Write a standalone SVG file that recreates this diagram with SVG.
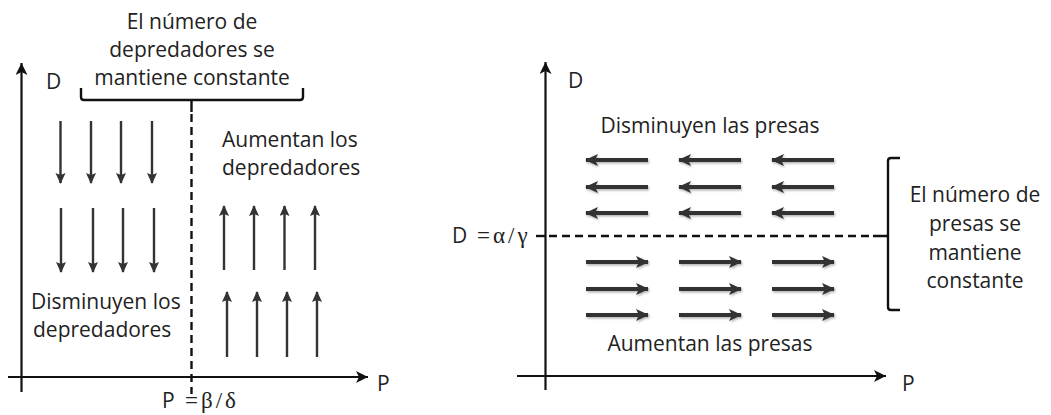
<svg xmlns="http://www.w3.org/2000/svg" width="1051" height="415" viewBox="0 0 1051 415">
<style>
text{font-family:"Open Sans","DejaVu Sans",sans-serif;font-size:21px;fill:#222}
.sym{font-family:"Liberation Serif",serif;font-size:23px;letter-spacing:3px}
.ax{stroke:#111;stroke-width:2.2;fill:none}
.va{stroke:#333;stroke-width:2.4;fill:none}
.ha{stroke:#333;stroke-width:4;fill:none}
.dash{stroke:#111;stroke-width:2.4;stroke-dasharray:8 5;fill:none}
.br{stroke:#111;stroke-width:2.4;fill:none;stroke-linejoin:round}
</style>
<defs>
<marker id="axh" markerUnits="userSpaceOnUse" markerWidth="14" markerHeight="12" refX="12" refY="6" orient="auto"><path d="M0,0 L12,6 L0,12 L3,6 Z" fill="#111"/></marker>
<marker id="vh" markerUnits="userSpaceOnUse" markerWidth="12" markerHeight="12" refX="10" refY="5" orient="auto"><path d="M0,0 L11,5 L0,10 L2,5 Z" fill="#333"/></marker>
<marker id="hh" markerUnits="userSpaceOnUse" markerWidth="14" markerHeight="14" refX="12" refY="6" orient="auto"><path d="M0,0 L13,6 L0,12 L3,6 Z" fill="#333"/></marker>
<filter id="sh" x="-10%" y="-50%" width="120%" height="200%"><feDropShadow dx="1" dy="1.5" stdDeviation="1.2" flood-color="#000" flood-opacity="0.3"/></filter>
</defs>

<g id="left-chart">
<g id="left-axes">
<line class="ax" x1="21.5" y1="392" x2="21.5" y2="63" marker-end="url(#axh)"/>
<line class="ax" x1="8" y1="377" x2="368" y2="377" marker-end="url(#axh)"/>
<text x="46" y="89">D</text>
<text x="377" y="391">P</text>
</g>
<g id="left-brace">
<path class="br" d="M81,88 V97 Q81,100 84,100 H300 Q303,100 303,97 V88 M191.5,100 V112"/>
<line class="dash" x1="191.5" y1="114" x2="191.5" y2="394"/>
<text x="192" y="29" text-anchor="middle">El número de</text>
<text x="192" y="57" text-anchor="middle">depredadores se</text>
<text x="192" y="85" text-anchor="middle">mantiene constante</text>
</g>
<g id="left-labels">
<text x="222" y="147">Aumentan los</text>
<text x="222" y="175">depredadores</text>
<text x="31" y="309">Disminuyen los</text>
<text x="33" y="337">depredadores</text>
<text x="162" y="408">P</text>
<text class="sym" x="185" y="408">=β/δ</text>
</g>
</g>

<g id="connectors">
<g id="down-arrows">
<line class="va" x1="60.5" y1="121" x2="60.5" y2="183" marker-end="url(#vh)"/>
<line class="va" x1="91" y1="121" x2="91" y2="183" marker-end="url(#vh)"/>
<line class="va" x1="121" y1="121" x2="121" y2="183" marker-end="url(#vh)"/>
<line class="va" x1="152" y1="121" x2="152" y2="183" marker-end="url(#vh)"/>
<line class="va" x1="61" y1="208" x2="61" y2="272" marker-end="url(#vh)"/>
<line class="va" x1="93" y1="208" x2="93" y2="272" marker-end="url(#vh)"/>
<line class="va" x1="123" y1="208" x2="123" y2="272" marker-end="url(#vh)"/>
<line class="va" x1="154" y1="208" x2="154" y2="272" marker-end="url(#vh)"/>
</g>
<g id="up-arrows">
<line class="va" x1="224" y1="270" x2="224" y2="206" marker-end="url(#vh)"/>
<line class="va" x1="254" y1="270" x2="254" y2="206" marker-end="url(#vh)"/>
<line class="va" x1="284.5" y1="270" x2="284.5" y2="206" marker-end="url(#vh)"/>
<line class="va" x1="315" y1="270" x2="315" y2="206" marker-end="url(#vh)"/>
<line class="va" x1="227" y1="357" x2="227" y2="292" marker-end="url(#vh)"/>
<line class="va" x1="257" y1="357" x2="257" y2="292" marker-end="url(#vh)"/>
<line class="va" x1="287" y1="357" x2="287" y2="292" marker-end="url(#vh)"/>
<line class="va" x1="317" y1="357" x2="317" y2="292" marker-end="url(#vh)"/>
</g>
<g id="left-arrows" filter="url(#sh)">
<line class="ha" x1="648" y1="160" x2="586" y2="160" marker-end="url(#hh)"/>
<line class="ha" x1="741" y1="160" x2="679" y2="160" marker-end="url(#hh)"/>
<line class="ha" x1="834" y1="160" x2="772" y2="160" marker-end="url(#hh)"/>
<line class="ha" x1="648" y1="187" x2="586" y2="187" marker-end="url(#hh)"/>
<line class="ha" x1="741" y1="187" x2="679" y2="187" marker-end="url(#hh)"/>
<line class="ha" x1="834" y1="187" x2="772" y2="187" marker-end="url(#hh)"/>
<line class="ha" x1="648" y1="213" x2="586" y2="213" marker-end="url(#hh)"/>
<line class="ha" x1="741" y1="213" x2="679" y2="213" marker-end="url(#hh)"/>
<line class="ha" x1="834" y1="213" x2="772" y2="213" marker-end="url(#hh)"/>
</g>
<g id="right-arrows" filter="url(#sh)">
<line class="ha" x1="586" y1="262" x2="648" y2="262" marker-end="url(#hh)"/>
<line class="ha" x1="679" y1="262" x2="741" y2="262" marker-end="url(#hh)"/>
<line class="ha" x1="772" y1="262" x2="834" y2="262" marker-end="url(#hh)"/>
<line class="ha" x1="586" y1="289" x2="648" y2="289" marker-end="url(#hh)"/>
<line class="ha" x1="679" y1="289" x2="741" y2="289" marker-end="url(#hh)"/>
<line class="ha" x1="772" y1="289" x2="834" y2="289" marker-end="url(#hh)"/>
<line class="ha" x1="586" y1="315" x2="648" y2="315" marker-end="url(#hh)"/>
<line class="ha" x1="679" y1="315" x2="741" y2="315" marker-end="url(#hh)"/>
<line class="ha" x1="772" y1="315" x2="834" y2="315" marker-end="url(#hh)"/>
</g>
</g>

<g id="right-chart">
<g id="right-axes">
<line class="ax" x1="545.5" y1="390" x2="545.5" y2="62" marker-end="url(#axh)"/>
<line class="ax" x1="517" y1="376" x2="886" y2="376" marker-end="url(#axh)"/>
<text x="568" y="88">D</text>
<text x="902" y="391">P</text>
</g>
<g id="right-brace">
<line class="dash" x1="549" y1="236" x2="873" y2="236"/>
<path class="br" d="M900,158 H891 Q888,158 888,161 V307 Q888,310 891,310 H900 M888,236 H873"/>
<line class="br" x1="536" y1="236" x2="545" y2="236"/>
<text x="975" y="202" text-anchor="middle">El número de</text>
<text x="975" y="231" text-anchor="middle">presas se</text>
<text x="975" y="260" text-anchor="middle">mantiene</text>
<text x="975" y="288" text-anchor="middle">constante</text>
</g>
<g id="right-labels">
<text x="710" y="133" text-anchor="middle">Disminuyen las presas</text>
<text x="710" y="351" text-anchor="middle">Aumentan las presas</text>
<text x="452" y="243">D</text>
<text class="sym" x="477" y="243">=α/γ</text>
</g>
</g>
</svg>
